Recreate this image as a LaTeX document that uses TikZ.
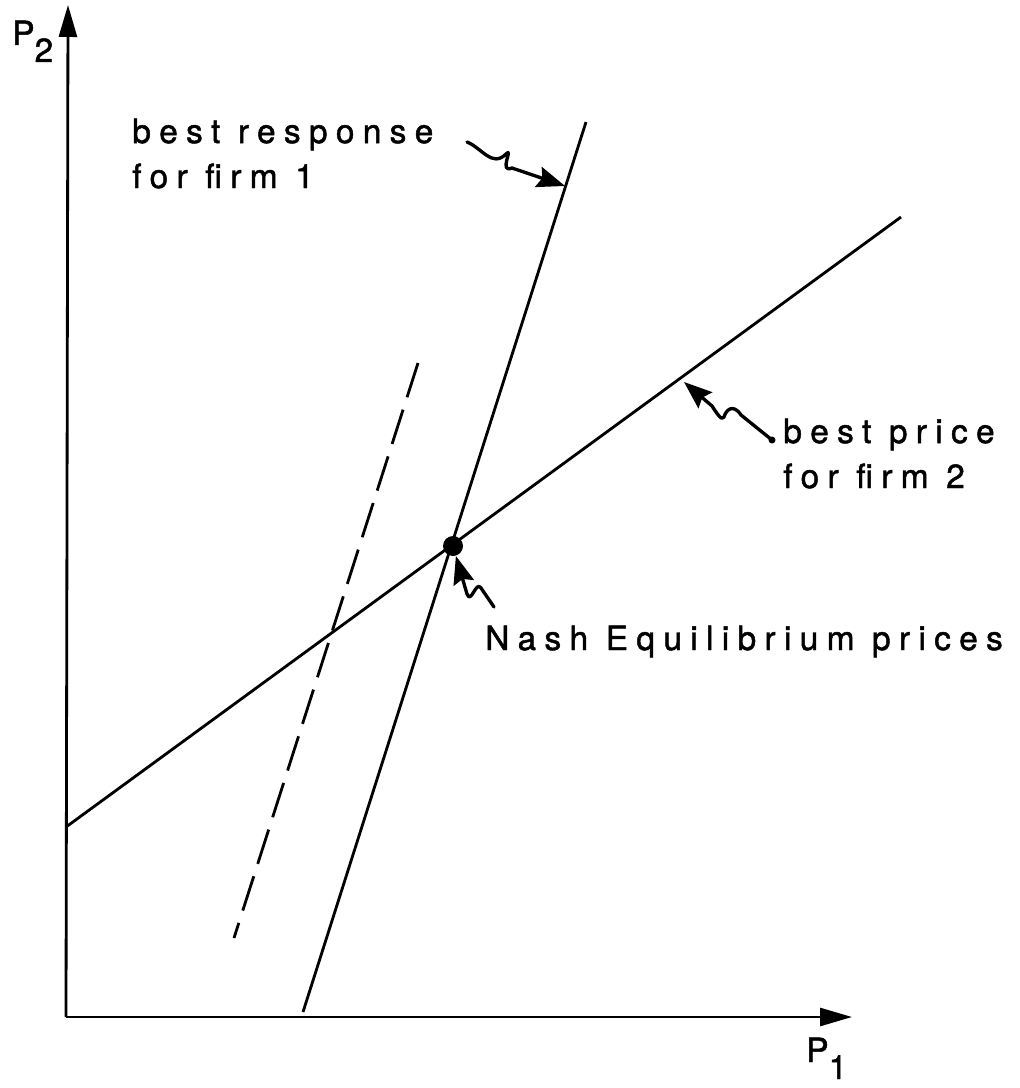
\documentclass[tikz,border=0pt]{standalone}
\usepackage{fontspec}
\setmainfont{TeX Gyre Heros}
\newfontfamily\lblfont[LetterSpace=25, FakeBold=1.4]{TeX Gyre Heros}
\usetikzlibrary{arrows.meta}

\tikzset{
  axis/.style={line width=1.6pt, -{Triangle[length=0.64cm,width=0.36cm]}},
  curve/.style={line width=1.6pt},
  squiggle/.style={line width=1.9pt, line cap=round, line join=round,
    -{Stealth[length=0.56cm,width=0.42cm,inset=0.08cm]}},
  lbl/.style={font=\lblfont\fontsize{19}{25.6}\selectfont, inner sep=0pt, align=left},
}

\begin{document}
\begin{tikzpicture}[x=0.02cm, y=-0.02cm]
  \useasboundingbox (0,0) rectangle (1019,1088);

  % axes
  \coordinate (O) at (66,1017);
  \coordinate (ytip) at (68,5);
  \coordinate (xtip) at (852,1017);
  \draw[axis] (O) -- (ytip);
  \draw[axis] (O) -- (xtip);
  \node[lbl, anchor=base west] (ylbl) at (12,45) {P\raisebox{-0.34cm}{2}};
  \node[lbl, anchor=base west] (xlbl) at (806,1062) {P\raisebox{-0.34cm}{1}};

  % best response for firm 1
  \coordinate (br0) at (303,1012);
  \coordinate (br1) at (586,122);
  \draw[curve] (br0) -- (br1);
  % best price for firm 2
  \coordinate (bp0) at (66,827);
  \coordinate (bp1) at (901,217);
  \draw[curve] (bp0) -- (bp1);
  % shifted response
  \coordinate (sh0) at (234,938);
  \coordinate (sh1) at (418,363);
  \draw[curve, dash pattern=on 0.72cm off 0.26cm] (sh1) -- (sh0);

  % equilibrium
  \node[circle, fill, inner sep=0pt, minimum size=0.4cm] (eq) at (453,546) {};

  % labels (base = last line)
  \node[lbl, anchor=base west] (brlbl) at (132,188) {best response\\for firm 1};
  \node[lbl, anchor=base west] (bplbl) at (783,488) {best price\\for firm 2};
  \node[lbl, anchor=base west] (eqlbl) at (485,650) {Nash Equilibrium prices};

  % wiggly pointers
  \coordinate (brs) at (467,142);
  \coordinate (brt) at (565,186);
  \draw[squiggle] (brs) .. controls (482,148) and (492,168) .. (506,154)
    .. controls (514,146) and (498,174) .. (512,168) -- (brt);
  \coordinate (bps) at (772,440);
  \coordinate (bpt) at (684,382);
  \fill (bps) circle[radius=0.07cm];
  \draw[squiggle] (bps) -- (741,415) .. controls (733,403) and (726,410) .. (724,417)
    .. controls (722,422) and (716,412) .. (712,406) -- (bpt);
  \coordinate (eqs) at (494,607);
  \draw[squiggle] (eqs) -- (481,588) .. controls (476,580) and (471,605) .. (467,594) -- (eq);
\end{tikzpicture}
\end{document}
